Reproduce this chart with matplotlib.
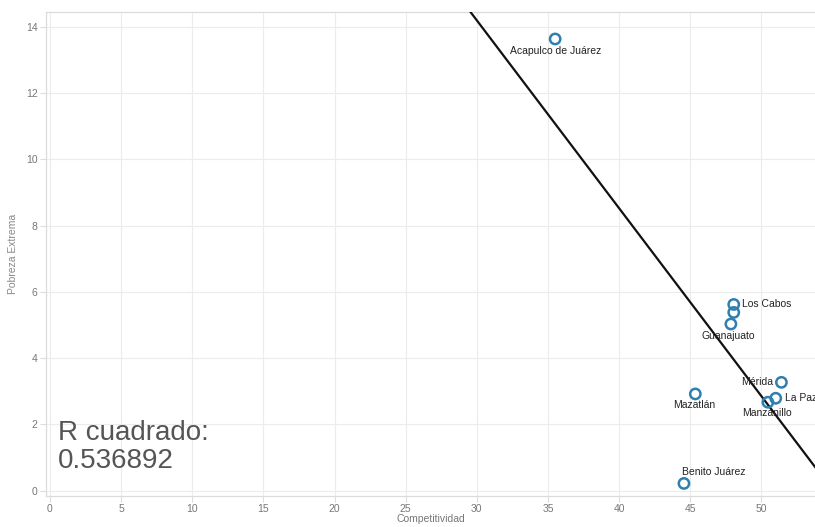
import matplotlib
matplotlib.use("Agg")
import matplotlib.pyplot as plt
import numpy as np

# ---- data ----
cities = ["Acapulco de Juárez", "Los Cabos", "", "Guanajuato", "Mérida",
          "La Paz", "Manzanillo", "Mazatlán", "Benito Juárez"]
competitividad = [35.5, 48.05, 48.05, 47.85, 51.4, 51.0, 50.45, 45.35, 44.55]
pobreza_extrema = [13.63, 5.62, 5.38, 5.03, 3.27, 2.79, 2.67, 2.92, 0.22]

trend_slope = -0.567
trend_intercept = 31.2
r_cuadrado = "0.536892"

x_ticks = [0, 5, 10, 15, 20, 25, 30, 35, 40, 45, 50]
y_ticks = [0, 2, 4, 6, 8, 10, 12, 14]

# label placement: (dx px, dy px, ha, va)
label_pos = {
    "Acapulco de Juárez": (0, -7, "center", "top"),
    "Los Cabos": (8, 0, "left", "center"),
    "Guanajuato": (-3, -7, "center", "top"),
    "Mérida": (-8, 0, "right", "center"),
    "La Paz": (9, 0, "left", "center"),
    "Manzanillo": (-1, -6, "center", "top"),
    "Mazatlán": (-1, -6, "center", "top"),
    "Benito Juárez": (-2, 6, "left", "bottom"),
}

plt.rcParams["font.family"] = ["Liberation Sans", "DejaVu Sans"]

fig = plt.figure(figsize=(8.15, 5.27), dpi=100)
ax = fig.add_axes([0.0564, 0.0588, 0.9436, 0.9188])

ax.set_xlim(-0.28, 53.76)
ax.set_ylim(-0.16, 14.45)

ax.set_xticks(x_ticks)
ax.set_yticks(y_ticks)
ax.grid(True, color="#ececec", linewidth=0.8)
ax.set_axisbelow(True)
ax.tick_params(colors="#dddddd", labelcolor="#777777", labelsize=7.5, length=4, width=0.8, pad=2)

ax.spines["right"].set_visible(False)
for side in ["left", "bottom", "top"]:
    ax.spines[side].set_color("#dcdcdc")
    ax.spines[side].set_linewidth(0.9)

# trend line
xs = np.array(ax.get_xlim())
ax.plot(xs, trend_intercept + trend_slope * xs, color="#111111", linewidth=1.6, zorder=3)

ax.scatter(competitividad, pobreza_extrema, s=55, facecolors="none",
           edgecolors="#2f7fb0", linewidths=1.8, zorder=4)

for name, cx, cy in zip(cities, competitividad, pobreza_extrema):
    if not name:
        continue
    dx, dy, ha, va = label_pos[name]
    ax.annotate(name, (cx, cy), xytext=(dx, dy), textcoords="offset pixels",
                ha=ha, va=va, fontsize=7.5, color="#222222", zorder=5)

ax.text(0.56, 1.53, "R cuadrado:", fontsize=20, color="#555555", va="baseline")
ax.text(0.56, 0.69, r_cuadrado, fontsize=20, color="#555555", va="baseline")

ax.set_xlabel("Competitividad", fontsize=7.5, color="#777777", labelpad=0)
ax.set_ylabel("Pobreza Extrema", fontsize=7.5, color="#888888", labelpad=6)

fig.savefig("out.png", dpi=100)
